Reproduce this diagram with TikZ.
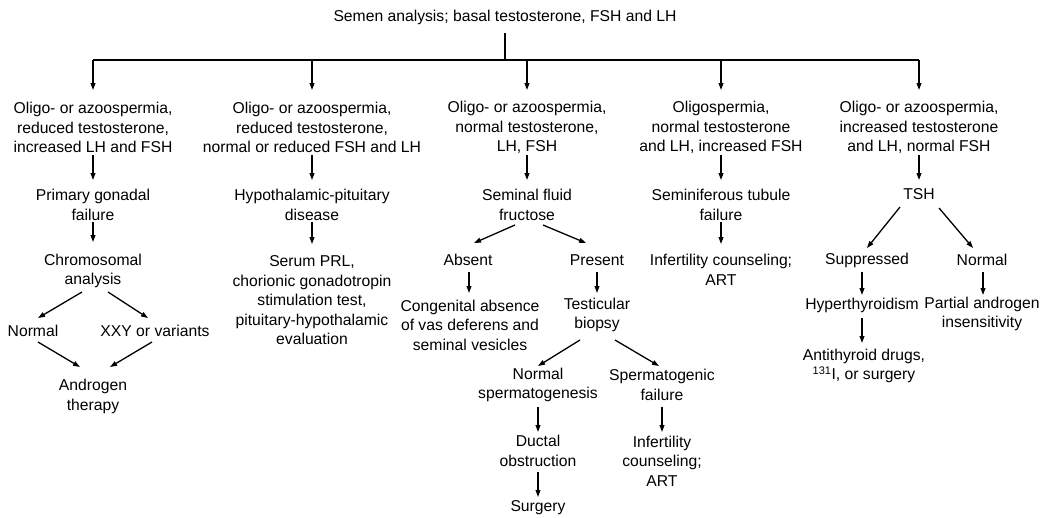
\documentclass[tikz,border=0pt]{standalone}
\usepackage{fontspec}
\setmainfont{Liberation Sans}
\usetikzlibrary{arrows.meta}
\newcommand\dfs{\fontsize{15.7}{19.5}\selectfont}
\newcommand\myarrow[4]{\draw[arr] ([shift={#2}]#1.center) -- ([shift={#4}]#3.center);}
\begin{document}
\begin{tikzpicture}[x=1pt,y=-1pt,
  txt/.style={align=center,inner sep=0pt,font=\dfs,text=black},
  arr/.style={line width=1.3pt,-{Triangle[length=7pt,width=4.8pt]}},
  barline/.style={line width=1.9pt}]
\useasboundingbox[fill=white] (0,0) rectangle (1046,517);

% title
\node[txt] (title) at (505,17) {Semen analysis; basal testosterone, FSH and LH};

% level 1
\node[txt] (a1) at (93,127.5)  {Oligo- or azoospermia,\\reduced testosterone,\\increased LH and FSH};
\node[txt] (b1) at (312,127.5) {Oligo- or azoospermia,\\reduced testosterone,\\normal or reduced FSH and LH};
\node[txt] (c1) at (527,127.5) {Oligo- or azoospermia,\\normal testosterone,\\LH, FSH};
\node[txt] (d1) at (721,127.5) {Oligospermia,\\normal testosterone\\and LH, increased FSH};
\node[txt] (e1) at (919,127.5) {Oligo- or azoospermia,\\increased testosterone\\and LH, normal FSH};

% level 2
\node[txt] (a2) at (93,205)  {Primary gonadal\\failure};
\node[txt] (b2) at (312,205) {Hypothalamic-pituitary\\disease};
\node[txt] (c2) at (527,205) {Seminal fluid\\fructose};
\node[txt] (d2) at (721,205) {Seminiferous tubule\\failure};
\node[txt] (e2) at (919,194) {TSH};

% level 3
\node[txt] (a3) at (93,271)    {Chromosomal\\analysis};
\node[txt] (b3) at (312,300.5) {Serum PRL,\\chorionic gonadotropin\\stimulation test,\\pituitary-hypothalamic\\evaluation};
\node[txt] (cL) at (468,260)   {Absent};
\node[txt] (cR) at (597,260)   {Present};
\node[txt] (d3) at (721,270)   {Infertility counseling;\\ART};
\node[txt] (eL) at (867,260)   {Suppressed};
\node[txt] (eR) at (982,260)   {Normal};

% level 4
\node[txt] (aL) at (33,331)  {Normal};
\node[txt] (aR) at (155,331) {XXY or variants};
\node[txt] (a4) at (93,396.5) {Androgen\\therapy};
\node[txt] (cL2) at (470,325) {Congenital absence\\of vas deferens and\\seminal vesicles};
\node[txt] (cR2) at (597,315) {Testicular\\biopsy};
\node[txt] (eL2) at (862,305) {Hyperthyroidism};
\node[txt] (eR2) at (982,314) {Partial androgen\\insensitivity};
\node[txt] (eL3) at (864,366) {Antithyroid drugs,\\\textsuperscript{131}I, or surgery};

% level 5+
\node[txt] (cRL)  at (538,385) {Normal\\spermatogenesis};
\node[txt] (cRR)  at (662,385) {Spermatogenic\\failure};
\node[txt] (cRL2) at (538,451) {Ductal\\obstruction};
\node[txt] (cRR2) at (662,461) {Infertility\\counseling;\\ART};
\node[txt] (cRL3) at (538,508) {Surgery};

% bar
\coordinate (barL) at (93,60);
\coordinate (barR) at (919,60);
\draw[barline] ([shift={(0,16)}]title.center) -- (title.center |- barL);
\draw[barline] (barL) -- (barR);
\foreach \n in {a1,b1,c1,d1,e1}{
  \draw[arr] (\n.center |- barL) -- ([shift={(0,-37.5)}]\n.center);
}

% vertical connectors
\myarrow{a1}{(0,27.5)}{a2}{(0,-25)}
\myarrow{a2}{(0,17)}{a3}{(0,-29)}
\myarrow{b1}{(0,27.5)}{b2}{(0,-25)}
\myarrow{b2}{(0,17)}{b3}{(0,-56.5)}
\myarrow{c1}{(0,27.5)}{c2}{(0,-25)}
\myarrow{d1}{(0,27.5)}{d2}{(0,-25)}
\myarrow{d2}{(0,17)}{d3}{(0,-26)}
\myarrow{e1}{(0,27.5)}{e2}{(0,-14)}
\myarrow{cL}{(1,12)}{cL2}{(-1,-32)}
\myarrow{cR}{(0,12)}{cR2}{(0,-22)}
\myarrow{cRL}{(0,22)}{cRL2}{(0,-19)}
\myarrow{cRL2}{(0,21)}{cRL3}{(0,-11)}
\myarrow{cRR}{(0,22)}{cRR2}{(0,-29)}
\myarrow{eL}{(-5,12)}{eL2}{(0,-10)}
\myarrow{eR}{(1,12)}{eR2}{(1,-19)}
\myarrow{eL2}{(0,13)}{eL3}{(-2,-23)}

% diagonal connectors
\myarrow{a3}{(-11,21)}{aL}{(5,-13)}
\myarrow{a3}{(15,21)}{aR}{(-7,-13)}
\myarrow{aL}{(5,11)}{a4}{(-13,-29.5)}
\myarrow{aR}{(-3,11)}{a4}{(17,-29.5)}
\myarrow{c2}{(-12,20)}{cL}{(6,-17)}
\myarrow{c2}{(16,20)}{cR}{(-11,-17)}
\myarrow{cR2}{(-17,25)}{cRL}{(0,-19)}
\myarrow{cR2}{(18,25)}{cRR}{(-3,-19)}
\myarrow{e2}{(-19,13)}{eL}{(0,-12)}
\myarrow{e2}{(20,14)}{eR}{(-9,-12)}
\end{tikzpicture}
\end{document}
